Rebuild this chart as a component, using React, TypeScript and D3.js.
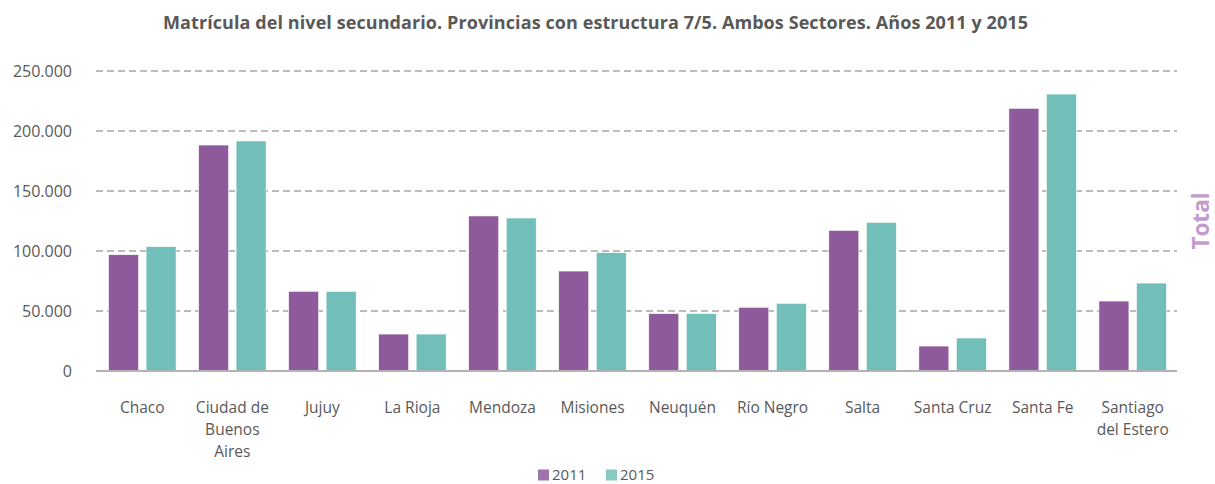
import React from "react";
import * as d3 from "d3";

const categories: string[][] = [
  ["Chaco"],
  ["Ciudad de", "Buenos", "Aires"],
  ["Jujuy"],
  ["La Rioja"],
  ["Mendoza"],
  ["Misiones"],
  ["Neuquén"],
  ["Río Negro"],
  ["Salta"],
  ["Santa Cruz"],
  ["Santa Fe"],
  ["Santiago", "del Estero"],
];
const series = ["2011", "2015"];
const values2011 = [96900, 188300, 66400, 30800, 129200, 83300, 47800, 53100, 117200, 20800, 218900, 58300];
const values2015 = [103600, 191700, 66400, 30800, 127500, 98600, 47800, 56400, 123900, 27500, 230800, 73300];
const yTicks = [0, 50000, 100000, 150000, 200000, 250000];
const title = "Matrícula del nivel secundario. Provincias con estructura 7/5. Ambos Sectores. Años 2011 y 2015";
const sideLabel = "Total";

const colors: Record<string, string> = { "2011": "#8e5a9c", "2015": "#72bfb9" };

const W = 1215;
const H = 484;
const left = 97.3;
const right = 1177.7;
const top = 71;
const bottom = 371;
const FONT = "'Open Sans', 'DejaVu Sans', sans-serif";

export default function App() {
  const keys = categories.map((c) => c.join(" "));
  const x0 = d3.scaleBand<string>().domain(keys).range([left, right]).paddingInner(0.25).paddingOuter(0.125);
  const x1 = d3.scaleBand<string>().domain(series).range([0, x0.bandwidth()]).paddingInner(0.2).paddingOuter(0);
  const y = d3.scaleLinear().domain([0, 250000]).range([bottom, top]);
  const fmt = (v: number) => d3.format(",")(v).replace(/,/g, ".");
  const data: Record<string, number[]> = { "2011": values2011, "2015": values2015 };

  return (
    <svg width={W} height={H} style={{ position: "absolute", left: 0, top: 0, background: "#fff" }}>
      <text
        x={163}
        y={29}
        textLength={865}
        lengthAdjust="spacing"
        fontFamily={FONT}
        fontWeight="bold"
        fontSize={18}
        fill="#595959"
      >
        {title}
      </text>
      {yTicks.map((t) => (
        <g key={t}>
          {t > 0 && (
            <line
              x1={96}
              x2={1177}
              y1={y(t)}
              y2={y(t)}
              stroke="#a6a6a6"
              strokeWidth={1.5}
              strokeDasharray="7,4"
            />
          )}
          <text
            x={72}
            y={y(t)}
            textAnchor="end"
            dominantBaseline="central"
            fontFamily={FONT}
            fontSize={16}
            fill="#595959"
          >
            {fmt(t)}
          </text>
        </g>
      ))}
      {keys.map((k, i) => (
        <g key={k} transform={`translate(${x0(k)},0)`}>
          {series.map((s) => {
            const v = data[s][i];
            return (
              <rect
                key={s}
                x={x1(s)}
                y={y(v)}
                width={x1.bandwidth()}
                height={y(0) - y(v)}
                fill={colors[s]}
                stroke="#ffffff"
                strokeWidth={0.6}
              />
            );
          })}
          {categories[i].map((line, j) => (
            <text
              key={j}
              x={x0.bandwidth() / 2}
              y={413 + j * 22}
              textAnchor="middle"
              fontFamily={FONT}
              fontSize={15.5}
              fill="#595959"
            >
              {line}
            </text>
          ))}
        </g>
      ))}
      <line x1={96} x2={1177} y1={bottom} y2={bottom} stroke="#b3b3b3" strokeWidth={1.8} />
      <text
        transform={`translate(1208.5,221) rotate(-90)`}
        textAnchor="middle"
        fontFamily={FONT}
        fontWeight="bold"
        fontSize={22.5}
        fill="#c39bcc"
      >
        {sideLabel}
      </text>
      {series.map((s, i) => (
        <g key={s} transform={`translate(${538 + i * 68},0)`}>
          <rect x={0} y={469.5} width={11} height={11} fill={colors[s]} opacity={0.85} />
          <text x={14} y={480} fontFamily={FONT} fontSize={15} fill="#595959">
            {s}
          </text>
        </g>
      ))}
    </svg>
  );
}
